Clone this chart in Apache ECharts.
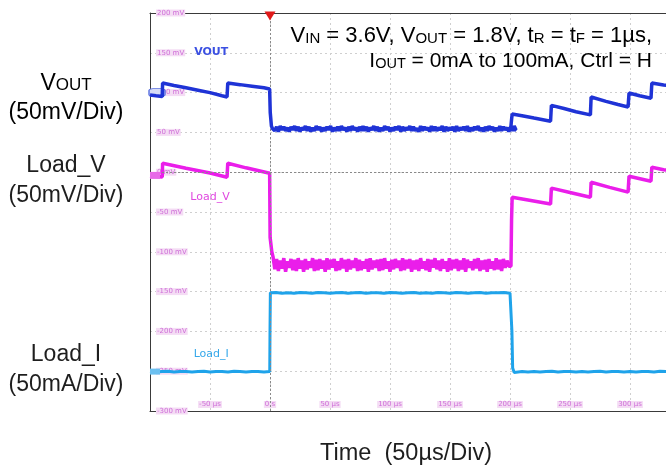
<!DOCTYPE html>
<html>
<head>
<meta charset="utf-8">
<script src="https://cdn.jsdelivr.net/npm/echarts@6/dist/echarts.min.js"></script>
<style>html,body{margin:0;padding:0;background:#fff;}#c{width:666px;height:469px;}</style>
</head>
<body>
<div id="c"></div>
<script>
// ---- axis range (scope divisions, visible part) ----
const timeMinUs = -100, timeMaxUs = 330, timeStepUs = 50;
const voltMinMv = -300, voltMaxMv = 200, voltStepMv = 50;

// ---- VOUT (blue), mV on scope scale, [time µs, value] ----
const voutHead = [[-100,97],[-95,96],[-89.8,95],[-89.5,112],[-80,109],[-70,106],[-60,103],[-50,100],[-40,96],[-35.8,94.5],[-35.2,112],[-25,110],[-15,108],[-5,106],[-0.3,104.5],[0.2,75],[1.2,58],[2,55]];
const voutLoadStart = 2.5, voutLoadStep = 1.5;
const voutLoadVals = [56,52,57,51,58,53,57,52,56,51,57,53,58,52,57,51,56,53,58,52,
  57,51,56,52,58,53,57,51,56,52,57,53,58,51,56,52,57,52,58,53,
  56,51,57,52,58,53,56,51,57,52,58,52,57,51,56,53,58,52,57,51,
  56,52,58,53,57,51,56,52,57,53,58,51,57,52,56,53,58,52,57,52,
  55,51,58,52,57,53,56,51,58,52,57,52,56,53,58,51,57,52,56,53,
  57,51,58,52,56,53,57,52,58,51,56,52,57,53,58,52,56,51,57,52,
  58,53,57,51,56,52,58,52,57,53,56,51,57,52,58,53];
const voutTail = [[200.6,55],[201.3,66],[201.8,73],[210,71],[220,68],[233.8,64],[234.5,84],[245,80],[255,76],[267,72],[267.6,94.5],[280,89],[290,85],[298.4,82],[299.2,99.5],[308,96],[317.5,93],[318.2,112],[328,109.5],[345,107]];

// ---- Load_V (magenta) ----
const loadVHead = [[-100,-5],[-95,-5.5],[-89.8,-6],[-89.5,11.3],[-70,5],[-50,-1],[-35.8,-6.3],[-35.2,11.3],[-20,5.5],[-0.3,-1.3],[0.1,-82],[1.5,-100]];
const loadVLoadStart = 2.5, loadVLoadStep = 1.5;
const loadVLoadVals = [-106,-122,-109,-124,-111,-121,-108,-125,-112,-120,-109,-123,-110,-124,-108,-121,-111,-125,-109,-122,
  -112,-120,-108,-124,-110,-123,-109,-121,-111,-125,-108,-122,-110,-120,-109,-124,-112,-123,-108,-121,
  -110,-125,-109,-122,-111,-120,-108,-124,-110,-123,-112,-121,-109,-125,-108,-122,-111,-120,-110,-124,
  -109,-123,-108,-121,-112,-125,-110,-122,-109,-120,-111,-124,-108,-123,-110,-121,-109,-125,-111,-122,
  -110,-124,-108,-121,-112,-123,-109,-125,-110,-120,-108,-122,-111,-124,-109,-121,-112,-125,-108,-123,
  -110,-121,-109,-124,-111,-122,-108,-125,-110,-120,-112,-123,-109,-121,-108,-124,-111,-122,-110,-125,
  -109,-121,-112,-123,-108,-122,-110,-124,-109,-120,-111,-118];
const loadVTail = [[200.8,-118],[201.3,-60],[201.8,-31.5],[215,-35],[233.8,-40],[234.5,-20],[250,-25.5],[267,-31.5],[267.6,-12.6],[283,-19],[298.4,-25],[299.2,-5],[317.5,-11.3],[318.2,6.3],[328,3],[345,0]];

// ---- Load_I (light blue) ----
const loadILowStart = -100, loadILowStep = 5;
const loadILowVals = [-250.5,-251,-250.5,-250,-251,-250.5,-250.5,-251,-250.5,-250,-251,-250.5,-250.5,-251,-250,-250.5,-251,-250.5,-250.5,-251];
const loadIRise = [[-0.2,-250.5],[0,-200],[0.3,-151.5]];
const loadIHighStart = 5, loadIHighStep = 5;
const loadIHighVals = [-151,-152,-151.5,-152,-151,-151.5,-152,-151,-151.5,-152,-151.5,-151,-152,-151.5,-151,-152,-151.5,-151.5,-152,-151,
  -151.5,-152,-151.5,-151,-152,-151.5,-152,-151,-151.5,-152,-151,-151.5,-152,-151.5,-151,-152,-151.5,-151.5,-151,-152];
const loadIFall = [[201.2,-151.5],[201.6,-200],[202.2,-246],[203.5,-251.5],[205,-250.5]];
const loadIEndStart = 210, loadIEndStep = 5;
const loadIEndVals = [-250.5,-251,-250.5,-251,-250.5,-250,-251,-250.5,-250.5,-251,-250.5,-251,-250.5,-250,-251,-250.5,-250.5,-251,-250.5,-251,-250.5,-250.5,-251,-250,-250.5,-251,-250.5];

function seq(start, step, vals) { return vals.map((v, i) => [start + i * step, v]); }

const voutData = voutHead.concat(seq(voutLoadStart, voutLoadStep, voutLoadVals), voutTail);
const loadVData = loadVHead.concat(seq(loadVLoadStart, loadVLoadStep, loadVLoadVals), loadVTail);
const loadIData = seq(loadILowStart, loadILowStep, loadILowVals).concat(loadIRise, seq(loadIHighStart, loadIHighStep, loadIHighVals), loadIFall, seq(loadIEndStart, loadIEndStep, loadIEndVals));

const C_VOUT = '#1f33d6', C_LV = '#ea1eea', C_LI = '#1fa3ea';
const scopeLabel = { inside: true, fontSize: 7, color: '#cf6fd8', backgroundColor: '#f4dcf4', padding: [0, 1], fontFamily: 'DejaVu Sans' };
const FONT = 'Liberation Sans';
const frameLine = { show: true, onZero: false, lineStyle: { color: '#3a3a3a', width: 1 } };
const gridLine = { show: true, lineStyle: { color: '#cfcfcf', type: [2, 3], width: 1 } };

const chart = echarts.init(document.getElementById('c'), null, { renderer: 'canvas' });
chart.setOption({
  animation: false,
  backgroundColor: '#fff',
  grid: { left: 150, top: 13, right: -2, bottom: 58, show: false },
  xAxis: [{
    type: 'value', position: 'bottom', min: timeMinUs, max: timeMaxUs, interval: timeStepUs,
    axisLine: frameLine, axisTick: { show: false },
    axisLabel: Object.assign({}, scopeLabel, { margin: 3, showMinLabel: false, showMaxLabel: false, formatter: v => v === 0 ? '0 s' : v + ' µs' }),
    splitLine: gridLine
  }, {
    type: 'value', position: 'top', min: timeMinUs, max: timeMaxUs, interval: timeStepUs,
    axisLine: frameLine, axisTick: { show: false }, axisLabel: { show: false }, splitLine: { show: false }
  }],
  yAxis: {
    type: 'value', min: voltMinMv, max: voltMaxMv, interval: voltStepMv,
    axisLine: frameLine, axisTick: { show: false },
    axisLabel: Object.assign({}, scopeLabel, { margin: 6, formatter: v => v + ' mV' }),
    splitLine: gridLine
  },
  series: [
    {
      name: 'VOUT', type: 'line', data: voutData, showSymbol: false, symbol: 'none',
      lineStyle: { color: C_VOUT, width: 3.5 }, itemStyle: { color: C_VOUT }, z: 5,
      markLine: {
        silent: true, symbol: 'none', label: { show: false },
        lineStyle: { color: '#8a8a8a', type: [2, 2], width: 1 },
        data: [{ xAxis: 0 }, { yAxis: 0 }]
      },
      markPoint: {
        silent: true,
        data: [
          { coord: [-49, 151], symbol: 'rect', symbolSize: 0, label: { show: true, formatter: 'VOUT', color: '#3b50e2', fontSize: 11, fontWeight: 'bold', fontFamily: 'DejaVu Sans' } },
          { coord: [-100, 100], symbol: 'roundRect', symbolSize: [16, 8], symbolOffset: [7, 0], itemStyle: { color: '#d6dbf6', borderColor: '#5a70e0', borderWidth: 1 }, label: { show: false } },
          { coord: [0, 200], symbol: 'triangle', symbolRotate: 180, symbolSize: [11, 9], symbolOffset: [0, 3], itemStyle: { color: '#e01a1a' }, label: { show: false } }
        ]
      }
    },
    {
      name: 'Load_V', type: 'line', data: loadVData, showSymbol: false, symbol: 'none',
      lineStyle: { color: C_LV, width: 3.5 }, itemStyle: { color: C_LV }, z: 4,
      markPoint: {
        silent: true,
        data: [
          { coord: [-50, -31.5], symbol: 'rect', symbolSize: 0, label: { show: true, formatter: 'Load_V', color: '#e048e0', fontSize: 11, fontFamily: 'DejaVu Sans' } },
          { coord: [-100, -4], symbol: 'rect', symbolSize: [10, 7], symbolOffset: [5, 0], itemStyle: { color: '#e86ae8' }, label: { show: false } }
        ]
      }
    },
    {
      name: 'Load_I', type: 'line', data: loadIData, showSymbol: false, symbol: 'none',
      lineStyle: { color: C_LI, width: 3 }, itemStyle: { color: C_LI }, z: 3,
      markPoint: {
        silent: true,
        data: [
          { coord: [-49, -228], symbol: 'rect', symbolSize: 0, label: { show: true, formatter: 'Load_I', color: '#35a8ea', fontSize: 11, fontFamily: 'DejaVu Sans' } },
          { coord: [-100, -250.5], symbol: 'rect', symbolSize: [10, 6], symbolOffset: [5, 0], itemStyle: { color: '#6cc0f0' }, label: { show: false } }
        ]
      }
    }
  ],
  graphic: [
    { type: 'text', x: 652, y: 22, z: 20, style: {
      text: '{n|V}{s|IN}{n| = 3.6V, V}{s|OUT}{n| = 1.8V, t}{s|R}{n| = t}{s|F}{n| = 1µs,}\n{m|I}{t|OUT}{m| = 0mA to 100mA, Ctrl = H}',
      align: 'right', verticalAlign: 'top',
      rich: { n: { fontSize: 22, fontFamily: FONT, color: '#1e1e1e', lineHeight: 25, verticalAlign: 'bottom' },
              s: { fontSize: 15, fontFamily: FONT, color: '#1e1e1e', lineHeight: 25, verticalAlign: 'bottom', padding: [0, 0, 1, 0] },
              m: { fontSize: 21, fontFamily: FONT, color: '#1e1e1e', lineHeight: 25, verticalAlign: 'bottom' },
              t: { fontSize: 14.5, fontFamily: FONT, color: '#1e1e1e', lineHeight: 25, verticalAlign: 'bottom', padding: [0, 0, 1, 0] } } } },
    { type: 'text', x: 66, y: 66, style: {
      text: '{n|V}{s|OUT}\n{n|(50mV/Div)}', align: 'center', verticalAlign: 'top',
      rich: { n: { fontSize: 23, fontFamily: FONT, color: '#1e1e1e', lineHeight: 29, verticalAlign: 'bottom' },
              s: { fontSize: 17, fontFamily: FONT, color: '#1e1e1e', lineHeight: 29, verticalAlign: 'bottom', padding: [0, 0, 1, 0] } } } },
    { type: 'text', x: 66, y: 151, style: {
      text: 'Load_V\n(50mV/Div)', align: 'center', verticalAlign: 'top', lineHeight: 30,
      font: '23px "Liberation Sans"', fill: '#1e1e1e' } },
    { type: 'text', x: 66, y: 340, style: {
      text: 'Load_I\n(50mA/Div)', align: 'center', verticalAlign: 'top', lineHeight: 30,
      font: '23px "Liberation Sans"', fill: '#1e1e1e' } },
    { type: 'text', x: 406, y: 442, style: {
      text: 'Time  (50µs/Div)', align: 'center', verticalAlign: 'top',
      font: '23.5px "Liberation Sans"', fill: '#1e1e1e' } }
  ]
});
</script>
</body>
</html>
